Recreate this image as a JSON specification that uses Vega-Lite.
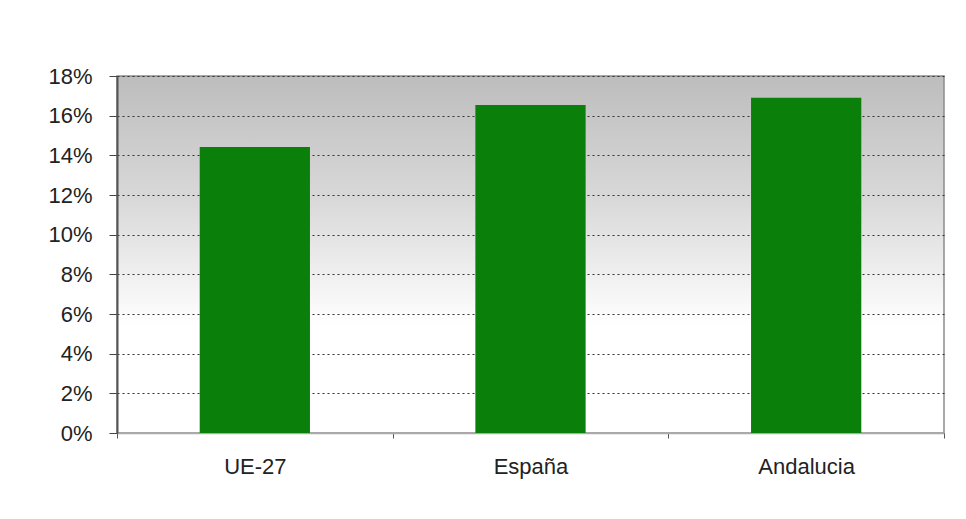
{
  "$schema": "https://vega.github.io/schema/vega-lite/v6.json",
  "width": 827,
  "height": 357,
  "autosize": "none",
  "padding": {"left": 117, "top": 76, "right": 22, "bottom": 86},
  "background": "#ffffff",
  "config": {
    "view": {
      "stroke": "#8c8c8c",
      "strokeWidth": 1.5,
      "fill": {
        "gradient": "linear",
        "x1": 0, "y1": 0, "x2": 0, "y2": 1,
        "stops": [
          {"offset": 0, "color": "#bdbdbd"},
          {"offset": 0.35, "color": "#d9d9d9"},
          {"offset": 0.7, "color": "#ffffff"},
          {"offset": 1, "color": "#ffffff"}
        ]
      }
    },
    "font": "Liberation Sans"
  },
  "data": {
    "values": [
      {"region": "UE-27", "value": 0.1442},
      {"region": "España", "value": 0.1654},
      {"region": "Andalucia", "value": 0.169}
    ]
  },
  "mark": {"type": "bar", "color": "#0a800a", "width": {"band": 0.4}},
  "encoding": {
    "x": {
      "field": "region",
      "type": "nominal",
      "sort": null,
      "scale": {"paddingInner": 0, "paddingOuter": 0},
      "axis": {
        "title": null,
        "labelAngle": 0,
        "labelFontSize": 22,
        "labelColor": "#222222",
        "labelPadding": 18,
        "tickBand": "extent",
        "tickSize": 5,
        "tickColor": "#555555",
        "domainColor": "#aaaaaa",
        "domainWidth": 1.5,
        "grid": false
      }
    },
    "y": {
      "field": "value",
      "type": "quantitative",
      "scale": {"domain": [0, 0.18], "nice": false},
      "axis": {
        "title": null,
        "format": ".0%",
        "values": [0, 0.02, 0.04, 0.06, 0.08, 0.1, 0.12, 0.14, 0.16, 0.18],
        "labelFontSize": 22,
        "labelColor": "#222222",
        "labelPadding": 17,
        "tickSize": 8,
        "tickColor": "#444444",
        "domainColor": "#555555",
        "domainWidth": 2,
        "grid": true,
        "gridColor": "#333333",
        "gridDash": [2, 3],
        "gridWidth": 1.2
      }
    }
  }
}
